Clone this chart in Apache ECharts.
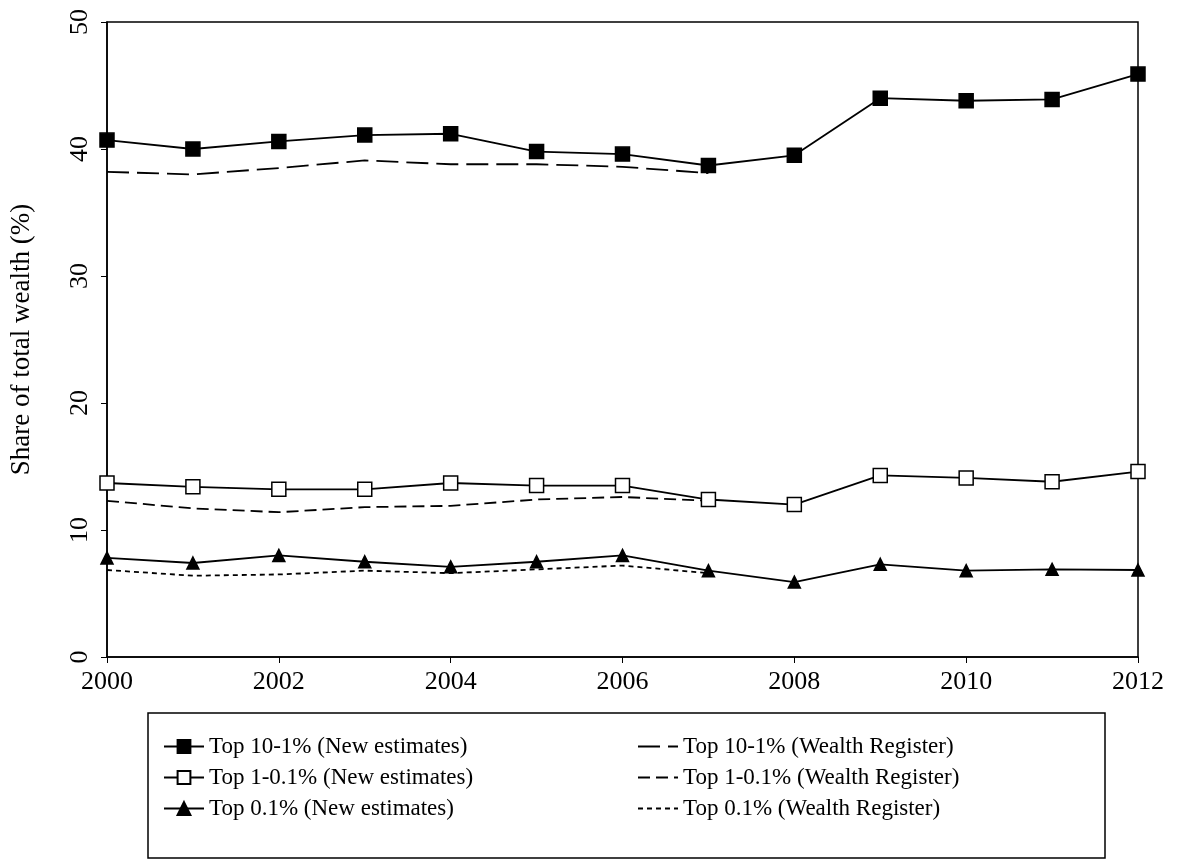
<!DOCTYPE html>
<html><head><meta charset="utf-8">
<script src="https://cdn.jsdelivr.net/npm/echarts@6/dist/echarts.min.js"></script>
<style>html,body{margin:0;padding:0;background:#fff}#c{width:1182px;height:868px}</style>
</head><body><div id="c"></div>
<script>
const years = [2000,2001,2002,2003,2004,2005,2006,2007,2008,2009,2010,2011,2012];
const yearsWR = [2000,2001,2002,2003,2004,2005,2006,2007];
const top10New = [40.7,40.0,40.6,41.1,41.2,39.8,39.6,38.7,39.5,44.0,43.8,43.9,45.9];
const top10WR = [38.2,38.0,38.5,39.1,38.8,38.8,38.6,38.1];
const top1New = [13.7,13.4,13.2,13.2,13.7,13.5,13.5,12.4,12.0,14.3,14.1,13.8,14.6];
const top1WR = [12.3,11.7,11.4,11.8,11.9,12.4,12.6,12.3];
const top01New = [7.8,7.4,8.0,7.5,7.1,7.5,8.0,6.8,5.9,7.3,6.8,6.9,6.85];
const top01WR = [6.85,6.4,6.5,6.8,6.6,6.9,7.2,6.6];
const yTicks = [0,10,20,30,40,50];
const pair = (xs, ys) => xs.map((x,i)=>[x,ys[i]]);
const font = 'Liberation Serif';
const chart = echarts.init(document.getElementById('c'));
const line = (name, data, symbol, fill, dash, size) => ({
  name, type:'line', data, symbol: symbol||'none', symbolSize: size||14,
  showSymbol: !!symbol,
  itemStyle:{color: fill||'#000', borderColor:'#000', borderWidth: 1.5},
  lineStyle:{color:'#000', width:1.8, type: dash||'solid'},
  animation:false
});
const wr = n => ({name:n, itemStyle:{opacity:0, borderWidth:0}});
chart.setOption({
  backgroundColor:'#fff',
  textStyle:{fontFamily:font},
  grid:{left:107, top:22, right:44, bottom:211, show:true, borderColor:'#000', borderWidth:1.5},
  xAxis:{type:'value', min:2000, max:2012, interval:2,
    axisLine:{lineStyle:{color:'#000', width:1.5}}, axisTick:{lineStyle:{color:'#000'}, length:6},
    splitLine:{show:false},
    axisLabel:{color:'#000', fontSize:26, fontFamily:font, margin:12, formatter:v=>String(v)}},
  yAxis:{type:'value', min:yTicks[0], max:yTicks[yTicks.length-1], interval:10,
    name:'Share of total wealth (%)', nameLocation:'middle', nameGap:72, nameRotate:90,
    nameTextStyle:{color:'#000', fontSize:27, fontFamily:font},
    axisLine:{show:true, lineStyle:{color:'#000', width:1.5}}, axisTick:{show:true, lineStyle:{color:'#000'}, length:6},
    splitLine:{show:false},
    axisLabel:{color:'#000', fontSize:26, fontFamily:font, rotate:90, margin:14}},
  graphic:[{type:'rect', shape:{x:148, y:713, width:957, height:145}, style:{fill:'none', stroke:'#000', lineWidth:1.5}}],
  legend:[
    {left:158, top:730, orient:'vertical', itemGap:8, itemWidth:40, itemHeight:16,
     textStyle:{fontSize:23, color:'#000', fontFamily:font},
     data:['Top 10-1% (New estimates)','Top 1-0.1% (New estimates)','Top 0.1% (New estimates)']},
    {left:632, top:730, orient:'vertical', itemGap:8, itemWidth:40, itemHeight:16,
     textStyle:{fontSize:23, color:'#000', fontFamily:font},
     data:[wr('Top 10-1% (Wealth Register)'),wr('Top 1-0.1% (Wealth Register)'),wr('Top 0.1% (Wealth Register)')]}
  ],
  series:[
    line('Top 10-1% (New estimates)', pair(years, top10New), 'rect', '#000'),
    line('Top 1-0.1% (New estimates)', pair(years, top1New), 'rect', '#fff'),
    line('Top 0.1% (New estimates)', pair(years, top01New), 'triangle', '#000', null, 12),
    line('Top 10-1% (Wealth Register)', pair(yearsWR, top10WR), null, null, [22,8]),
    line('Top 1-0.1% (Wealth Register)', pair(yearsWR, top1WR), null, null, [12,6]),
    line('Top 0.1% (Wealth Register)', pair(yearsWR, top01WR), null, null, [5,4])
  ]
});
</script></body></html>
